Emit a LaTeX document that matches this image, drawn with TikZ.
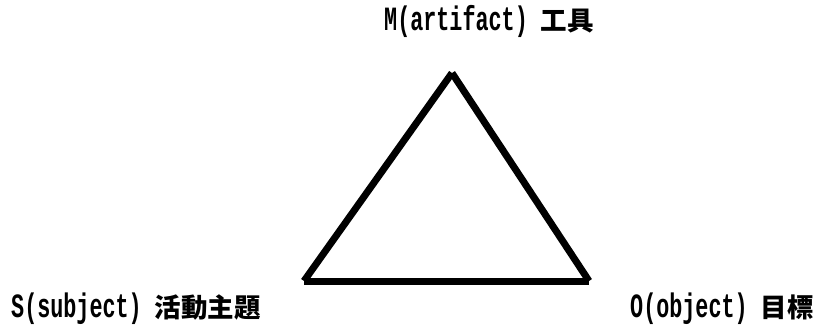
\documentclass[tikz,border=0pt]{standalone}
\usepackage{fontspec}
\setmonofont{Liberation Mono}[FakeStretch=0.64]
\newfontfamily\cjkfont{Noto Sans CJK TC}
\usetikzlibrary{positioning}
\definecolor{actInk}{HTML}{000000}
\tikzset{
  act label/.style={inner sep=0pt, anchor=base west, text=actInk,
    font=\fontsize{34}{36}\selectfont},
  act edge/.style={draw=actInk, line width=7pt, line cap=butt}
}
\newcommand{\actlabel}[2]{{\ttfamily\bfseries #1\ }{\fontsize{26.5}{30}\selectfont\cjkfont\bfseries #2}}

\begin{document}
\begin{tikzpicture}[x=1pt,y=-1pt]
  \useasboundingbox (0,0) rectangle (819,326);
  % corners of the triangle
  \coordinate (artifact) at (452,73);
  \coordinate (subject) at (304,281);
  \coordinate (object) at (589,281);
  \draw[act edge] (artifact) -- (subject);
  \draw[act edge] (artifact) -- (object);
  \draw[act edge] (subject) -- (object);
  % labels
  \node[act label] (mlabel) at (384,31) {\actlabel{M(artifact)}{工具}};
  \node[act label] (slabel) at (11,317) {\actlabel{S(subject)}{活動主題}};
  \node[act label] (olabel) at (630,317) {\actlabel{O(object)}{目標}};
\end{tikzpicture}
\end{document}
